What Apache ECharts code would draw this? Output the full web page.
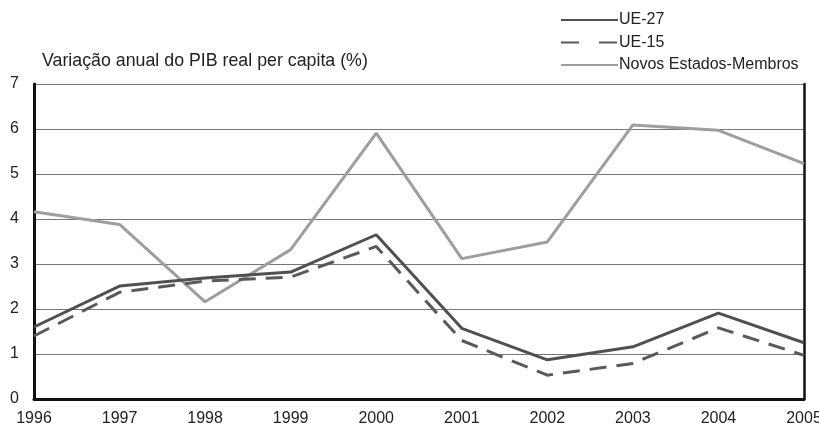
<!DOCTYPE html>
<html>
<head>
<meta charset="utf-8">
<script src="https://cdn.jsdelivr.net/npm/echarts@6/dist/echarts.min.js"></script>
<style>
  html, body { margin: 0; padding: 0; background: #fff; }
  #chart { width: 819px; height: 432px; }
</style>
</head>
<body>
<div id="chart"></div>
<script>
// Annual change in real GDP per capita (%)
const years = ['1996', '1997', '1998', '1999', '2000', '2001', '2002', '2003', '2004', '2005'];
const ue27 = [1.6, 2.51, 2.69, 2.82, 3.65, 1.57, 0.87, 1.16, 1.91, 1.25];
const ue15 = [1.4, 2.37, 2.62, 2.71, 3.39, 1.3, 0.53, 0.79, 1.58, 0.97];
const novos = [4.16, 3.88, 2.16, 3.32, 5.91, 3.12, 3.49, 6.09, 5.97, 5.23];
const yTicks = [0, 1, 2, 3, 4, 5, 6, 7];

const font = 'Liberation Sans, Arial, sans-serif';
const chart = echarts.init(document.getElementById('chart'), null, { renderer: 'canvas' });

chart.setOption({
  animation: false,
  backgroundColor: '#fff',
  title: {
    text: 'Variação anual do PIB real per capita (%)',
    left: 37,
    top: 47,
    textStyle: { fontFamily: font, fontSize: 17.8, fontWeight: 'normal', color: '#222' }
  },
  legend: {
    orient: 'vertical',
    left: 555,
    top: 7,
    itemWidth: 57,
    itemHeight: 14,
    itemGap: 6.5,
    itemStyle: { opacity: 0 },
    textStyle: { fontFamily: font, fontSize: 16, color: '#222', padding: [0, 0, 0, -4] },
    data: [
      { name: 'UE-27' },
      { name: 'UE-15', lineStyle: { type: [18, 20] } },
      { name: 'Novos Estados-Membros' }
    ]
  },
  grid: { left: 34, right: 15, top: 84, bottom: 33, containLabel: false, outerBoundsMode: 'none' },
  xAxis: {
    type: 'category',
    data: years,
    boundaryGap: false,
    axisLine: { show: true, lineStyle: { color: '#111', width: 3 } },
    axisTick: { show: false },
    axisLabel: { margin: 12, fontFamily: font, fontSize: 16, color: '#222' },
    splitLine: { show: false }
  },
  yAxis: [
    {
      type: 'value',
      min: yTicks[0],
      max: yTicks[yTicks.length - 1],
      interval: 1,
      axisLine: { show: true, lineStyle: { color: '#111', width: 3 } },
      axisTick: { show: false },
      axisLabel: { margin: 15, fontFamily: font, fontSize: 16, color: '#222' },
      splitLine: { show: true, lineStyle: { color: '#777', width: 1 } }
    },
    {
      type: 'value',
      position: 'right',
      min: yTicks[0],
      max: yTicks[yTicks.length - 1],
      interval: 1,
      axisLine: { show: true, lineStyle: { color: '#111', width: 2.5 } },
      axisTick: { show: false },
      axisLabel: { show: false },
      splitLine: { show: false }
    }
  ],
  series: [
    {
      name: 'Novos Estados-Membros',
      type: 'line',
      data: novos,
      symbol: 'none',
      z: 2,
      itemStyle: { color: '#9e9e9e' },
      lineStyle: { color: '#9e9e9e', width: 3 }
    },
    {
      name: 'UE-15',
      type: 'line',
      data: ue15,
      symbol: 'none',
      z: 3,
      itemStyle: { color: '#5a5a5a' },
      lineStyle: { color: '#5a5a5a', width: 3, type: [17, 10] }
    },
    {
      name: 'UE-27',
      type: 'line',
      data: ue27,
      symbol: 'none',
      z: 4,
      itemStyle: { color: '#505050' },
      lineStyle: { color: '#505050', width: 3 }
    }
  ]
});
</script>
</body>
</html>
